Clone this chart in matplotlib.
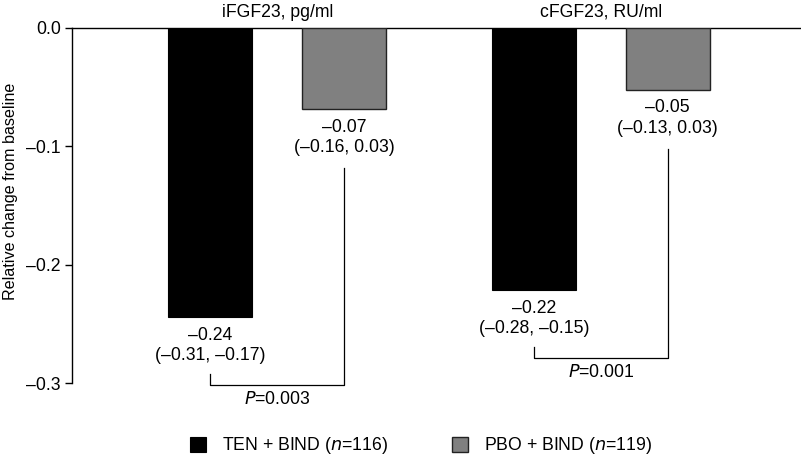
import matplotlib
matplotlib.use("Agg")
import matplotlib.pyplot as plt
from matplotlib.patches import Rectangle
from matplotlib.ticker import FuncFormatter

plt.rcParams['font.family'] = ['Liberation Sans', 'DejaVu Sans']

# ---- data ----
categories = ["iFGF23, pg/ml", "cFGF23, RU/ml"]
ten_values = [-0.2445, -0.2215]
pbo_values = [-0.0687, -0.0524]
ten_est = ["\u20130.24", "\u20130.22"]
ten_ci = ["(\u20130.31, \u20130.17)", "(\u20130.28, \u20130.15)"]
pbo_est = ["\u20130.07", "\u20130.05"]
pbo_ci = ["(\u20130.16, 0.03)", "(\u20130.13, 0.03)"]
p_labels = ["0.003", "0.001"]
series_names = ["TEN + BIND ($\\it{n}$=116)", "PBO + BIND ($\\it{n}$=119)"]
yticks = [0.0, -0.1, -0.2, -0.3]

# ---- style ----
FS = 12.7
ten_color = "#000000"
pbo_color = "#808080"
group_pos = [1.537, 3.961]
offset = 0.5
width = 0.63

fig = plt.figure(figsize=(8.01, 4.58), dpi=100)
W, H = 801, 458
ax = fig.add_axes([72 / W, 1 - 383 / H, (800 - 72) / W, (383 - 28) / H])
ax.set_xlim(0, 5.453)
ax.set_ylim(-0.3, 0.0)

ten_x = [g - offset for g in group_pos]
pbo_x = [g + offset for g in group_pos]
ax.bar(ten_x, ten_values, width=width, color=ten_color, edgecolor="black", linewidth=0.8, zorder=3)
ax.bar(pbo_x, pbo_values, width=width, color=pbo_color, edgecolor="#222222", linewidth=1.0, zorder=3)

for i in range(2):
    # value labels
    ax.text(ten_x[i], ten_values[i] - 0.0152, ten_est[i], ha="center", va="center", fontsize=FS, clip_on=False)
    ax.text(ten_x[i], ten_values[i] - 0.0325, ten_ci[i], ha="center", va="center", fontsize=FS, clip_on=False)
    ax.text(pbo_x[i], pbo_values[i] - 0.0152, pbo_est[i], ha="center", va="center", fontsize=FS, clip_on=False)
    ax.text(pbo_x[i], pbo_values[i] - 0.0325, pbo_ci[i], ha="center", va="center", fontsize=FS, clip_on=False)
    # bracket
    lt = ten_values[i] - 0.048
    bot = lt - 0.009
    rt = pbo_values[i] - 0.050
    ax.plot([ten_x[i], ten_x[i], pbo_x[i], pbo_x[i]], [lt, bot, bot, rt],
            color="black", linewidth=0.9, clip_on=False, zorder=2)
    ax.text(group_pos[i], bot - 0.0125, "$\\it{P}$=" + p_labels[i], ha="center", va="center",
            fontsize=FS, clip_on=False)
    # group title
    ax.text(group_pos[i], 0.0135, categories[i], ha="center", va="center", fontsize=FS, clip_on=False)

# axes styling
for s in ["right", "bottom"]:
    ax.spines[s].set_visible(False)
ax.spines["top"].set_linewidth(1.0)
ax.spines["left"].set_linewidth(1.0)
ax.set_xticks([])
ax.set_yticks(yticks)
ax.yaxis.set_major_formatter(FuncFormatter(lambda v, p: ("%.1f" % v).replace("-", "\u2013") if v != 0 else "0.0"))
ax.tick_params(axis="y", direction="out", length=5, width=1.0, labelsize=FS, pad=3)
ax.set_ylabel("Relative change from baseline", fontsize=11.6)
ax.yaxis.set_label_coords(-54 / (800 - 72), 0.54)

# legend
handles = [Rectangle((0, 0), 1, 1, facecolor=ten_color, edgecolor="black", linewidth=0.8),
           Rectangle((0, 0), 1, 1, facecolor=pbo_color, edgecolor="#222222", linewidth=1.0)]
fig.legend(handles, series_names, loc="center", bbox_to_anchor=(421 / W, 1 - 446 / H),
           ncol=2, frameon=False, fontsize=FS, handlelength=0.9, handleheight=0.9,
           handletextpad=0.95, columnspacing=3.6)

fig.savefig("out.png", dpi=100)
